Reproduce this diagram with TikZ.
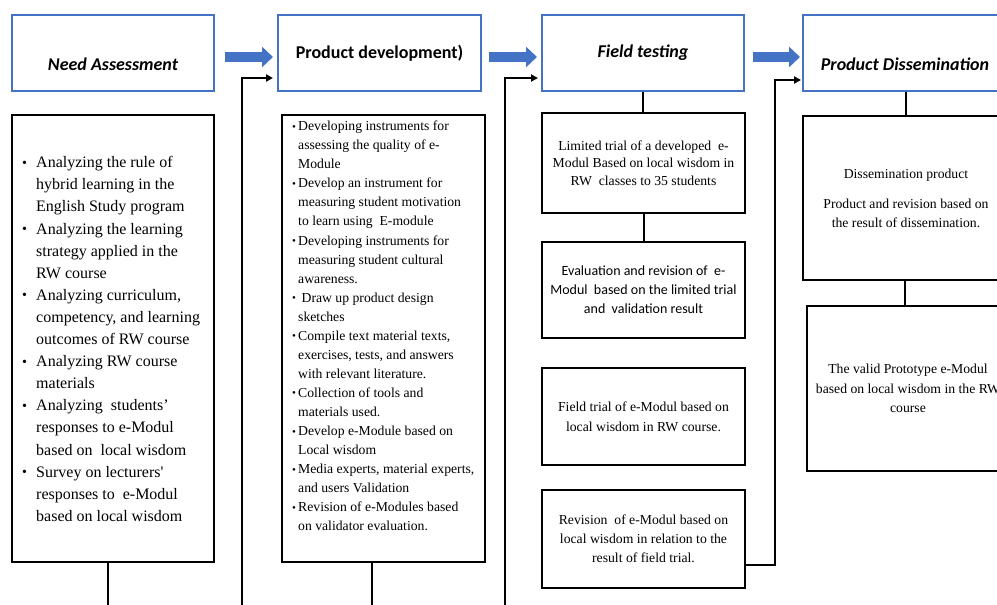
\documentclass[tikz,border=0pt]{standalone}
\usepackage{fontspec}
\setmainfont{Liberation Serif}
\newfontfamily\calfont{Carlito}
\usetikzlibrary{arrows.meta}
\definecolor{hblue}{RGB}{68,114,196}
\newcommand\nabul{\makebox[14pt][l]{\raisebox{0.5pt}{\fontsize{14}{14}\selectfont •}}}
\newcommand\naind{\hspace*{14pt}}
\newcommand\pdbul{\makebox[6pt][l]{\raisebox{0.5pt}{\fontsize{11}{11}\selectfont •}}}
\newcommand\pdind{\hspace*{6pt}}
\begin{document}
\begin{tikzpicture}[x=1pt,y=-1pt,
  hbox/.style={draw=hblue,line width=2pt,minimum width=#1,minimum height=76pt,inner sep=0pt,
    font=\calfont\fontsize{18}{22}\selectfont\bfseries},
  htext/.style={inner sep=0pt,font=\calfont\fontsize{18}{22}\selectfont\bfseries\itshape},
  cbox/.style 2 args={draw,line width=2pt,minimum width=#1,minimum height=#2,inner sep=0pt,align=center},
  barrow/.style={draw=hblue,line width=10pt,-{Triangle[length=11pt,width=20pt]}},
  conn/.style={draw,line width=2pt,-{Triangle[length=7pt,width=7pt]}},
  line/.style={draw,line width=2pt}]
\useasboundingbox (0,0) rectangle (997,605);
\clip (0,0) rectangle (997,605);
\fill[white] (0,0) rectangle (997,605);

% headers
\node[hbox=202pt] (hNA) at (113,53) {};
\node[htext] (tNAh) at (113,64) {Need Assessment};
\node[hbox=203pt] (hPD) at (379.5,53) {Product development)};
\node[hbox=202pt] (hFT) at (643,53) {\itshape Field testing};
\node[hbox=205pt] (hPDs) at (905.5,53) {};
\node[htext] (tPDsh) at (905,64) {Product Dissemination};

% blue arrows
\draw[barrow] ([xshift=10pt,yshift=-4pt]hNA.east) -- ([xshift=-4pt,yshift=-4pt]hPD.west);
\draw[barrow] ([xshift=7pt,yshift=-4pt]hPD.east) -- ([xshift=-4pt,yshift=-4pt]hFT.west);
\draw[barrow] ([xshift=8pt,yshift=-4pt]hFT.east) -- ([xshift=-2pt,yshift=-4pt]hPDs.west);

% content boxes
\node[cbox={202pt}{447pt}] (bNA) at (113,338.5) {};
\node[cbox={203pt}{447pt}] (bPD) at (383.5,338.5) {};

\node[anchor=west,inner sep=0pt,align=left,font=\fontsize{16}{22.1}\selectfont] (tNA) at (22,339) {%
\nabul Analyzing the rule of\\
\naind hybrid learning in the\\
\naind English Study program\\
\nabul Analyzing the learning\\
\naind strategy applied in the\\
\naind RW course\\
\nabul Analyzing curriculum,\\
\naind competency, and learning\\
\naind outcomes of RW course\\
\nabul Analyzing RW course\\
\naind materials\\
\nabul Analyzing~ students’\\
\naind responses to e-Modul\\
\naind based on~ local wisdom\\
\nabul Survey on lecturers\textquotesingle\\
\naind responses to~ e-Modul\\
\naind based on local wisdom};

\node[anchor=west,inner sep=0pt,align=left,font=\fontsize{13.7}{19.05}\selectfont] (tPD) at (292,326) {%
\pdbul Developing instruments for\\
\pdind assessing the quality of e-\\
\pdind Module\\
\pdbul Develop an instrument for\\
\pdind measuring student motivation\\
\pdind to learn using~ E-module\\
\pdbul Developing instruments for\\
\pdind measuring student cultural\\
\pdind awareness.\\
\pdbul\ Draw up product design\\
\pdind sketches\\
\pdbul Compile text material texts,\\
\pdind exercises, tests, and answers\\
\pdind with relevant literature.\\
\pdbul Collection of tools and\\
\pdind materials used.\\
\pdbul Develop e-Module based on\\
\pdind Local wisdom\\
\pdbul Media experts, material experts,\\
\pdind and users Validation\\
\pdbul Revision of e-Modules based\\
\pdind on validator evaluation.};

% field testing boxes
\node[cbox={203pt}{100pt},font=\fontsize{13.7}{17.6}\selectfont] (ft1) at (643.5,163)
  {Limited trial of a developed~ e-\\Modul Based on local wisdom in\\RW~ classes to 35 students};
\node[cbox={203pt}{96pt},font=\calfont\fontsize{14}{19}\selectfont] (ft2) at (643.5,290)
  {Evaluation and revision of~ e-\\Modul~ based on the limited trial\\and~ validation result};
\node[cbox={203pt}{97pt},font=\fontsize{13.7}{20}\selectfont] (ft3) at (643.5,416.5)
  {Field trial of e-Modul based on\\local wisdom in RW course.};
\node[cbox={203pt}{98pt},font=\fontsize{13.7}{19}\selectfont] (ft4) at (643.5,539)
  {Revision~ of e-Modul based on\\local wisdom in relation to the\\result of field trial.};

% dissemination boxes
\node[cbox={206pt}{164pt},font=\fontsize{13.7}{19}\selectfont] (pd1) at (906,198)
  {Dissemination product\\[11pt]Product and revision based on\\the result of dissemination.};
\node[cbox={202pt}{165pt},font=\fontsize{13.7}{19.5}\selectfont] (pd2) at (908,388.5)
  {The valid Prototype e-Modul\\based on local wisdom in the RW\\course};

% connectors
\draw[line] (hFT.south) -- (hFT.south |- ft1.north);
\draw[line] (ft1.south) -- (ft2.north);
\draw[line] (hPDs.south) -- (hPDs.south |- pd1.north);
\draw[line] ([xshift=-1pt]pd1.south) -- ([xshift=-1pt]pd1.south |- pd2.north);

\coordinate (eNA) at (108,615);
\coordinate (ePD) at (372,615);
\coordinate (s1) at (242,615);
\coordinate (s2) at (505,615);
\draw[line] ([xshift=-5pt]bNA.south) -- (eNA);
\draw[line] ([xshift=-11.5pt]bPD.south) -- (ePD);
\draw[conn] (s1) |- ([xshift=-4pt,yshift=14pt]hPD.south west);
\draw[conn] (s2) |- ([xshift=-3pt,yshift=14pt]hFT.south west);
\draw[conn] ([yshift=24pt]ft4.south east) -- ++(29,0) |- ([xshift=-1pt,yshift=12pt]hPDs.south west);
\end{tikzpicture}
\end{document}
